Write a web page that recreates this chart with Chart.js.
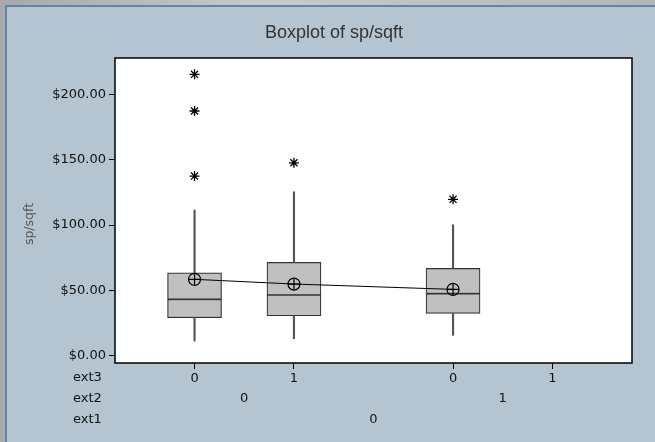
<!DOCTYPE html>
<html>
<head>
<meta charset="utf-8">
<script src="https://cdn.jsdelivr.net/npm/chart.js@4.4.0/dist/chart.umd.min.js"></script>
<style>
  html, body { margin: 0; padding: 0; }
  body { width: 655px; height: 442px; background: linear-gradient(90deg, #a8a8a8, #c9c9c9 40%, #b5b5b5); position: relative; overflow: hidden; }
  #panel { position: absolute; left: 5px; top: 5px; width: 650px; height: 437px; box-sizing: border-box;
           border-left: 2px solid #5b87b3; border-top: 2px solid #5b87b3; background: #b4c4d0; }
  #wrap { position: absolute; left: 0; top: 0; width: 655px; height: 442px; }
</style>
</head>
<body>
<div id="panel"></div>
<div id="wrap"><canvas id="boxplot" width="655" height="442"></canvas></div>
<script>
// categories (ext3 / ext2 / ext1 combinations) and their positions on the x axis
var xPos = [1, 2, 3.6, 4.6];
var ext3Labels = ['0', '1', '0', '1'];
var ext2Labels = ['0', '1'];
var ext2Spans = [[0, 1], [2, 3]];   // index range of categories under each ext2 label
var ext1Labels = ['0'];
var ext1Spans = [[0, 3]];

// box plot values (last category has no data)
var boxX     = [1, 2, 3.6];
var q1       = [29.0, 30.5, 32.3];
var q3       = [63.4, 71.4, 66.8];
var medians  = [43.1, 46.4, 47.4];
var whiskLow = [11.1, 12.9, 15.5];
var whiskHi  = [111.5, 125.5, 100.2];
var means    = [58.4, 54.8, 50.7];

var outlierX = [1, 1, 1, 2, 3.6];
var outlierY = [215.5, 187.4, 137.5, 147.7, 119.7];

var yTicks = [0, 50, 100, 150, 200];

function pts(xs, ys) {
    return xs.map(function(x, i) { return {x: x, y: ys[i]}; });
}
function ranges(xs, lo, hi) {
    return xs.map(function(x, i) { return {x: x, y: [lo[i], hi[i]]}; });
}

var tickFont = {family: 'DejaVu Sans', size: 13};

var plotFrame = {
    id: 'plotFrame',
    beforeDatasetsDraw: function(chart) {
        var a = chart.chartArea, ctx = chart.ctx;
        ctx.save();
        ctx.fillStyle = '#ffffff';
        ctx.fillRect(a.left, a.top, a.right - a.left, a.bottom - a.top);
        ctx.restore();
    },
    afterDraw: function(chart) {
        var a = chart.chartArea, ctx = chart.ctx;
        var xs = chart.scales.x;
        ctx.save();
        ctx.strokeStyle = '#000';
        ctx.lineWidth = 1.5;
        ctx.strokeRect(a.left, a.top, a.right - a.left, a.bottom - a.top);

        // title
        ctx.fillStyle = '#333';
        ctx.font = '18px "Liberation Sans"';
        ctx.textAlign = 'center';
        ctx.textBaseline = 'alphabetic';
        ctx.fillText('Boxplot of sp/sqft', 334, 38);

        // row labels and grouped category labels
        ctx.fillStyle = '#111';
        ctx.font = '13px "DejaVu Sans"';
        ctx.textBaseline = 'middle';
        ctx.textAlign = 'left';
        ctx.fillText('ext3', 73, 378);
        ctx.fillText('ext2', 73, 399);
        ctx.fillText('ext1', 73, 420);
        ctx.textAlign = 'center';
        ext2Labels.forEach(function(l, i) {
            var s = ext2Spans[i];
            ctx.fillText(l, xs.getPixelForValue((xPos[s[0]] + xPos[s[1]]) / 2), 399);
        });
        ext1Labels.forEach(function(l, i) {
            var s = ext1Spans[i];
            ctx.fillText(l, xs.getPixelForValue((xPos[s[0]] + xPos[s[1]]) / 2), 420);
        });

        // y axis title
        ctx.fillStyle = '#555';
        ctx.font = '12.5px "DejaVu Sans"';
        ctx.translate(30, 224);
        ctx.rotate(-Math.PI / 2);
        ctx.fillText('sp/sqft', 0, 0);
        ctx.restore();
    }
};

var ctx = document.getElementById('boxplot').getContext('2d');
new Chart(ctx, {
    type: 'bar',
    data: {
        datasets: [
            {
                label: 'box lower half',
                data: ranges(boxX, q1, medians),
                backgroundColor: '#c0c0c0',
                borderColor: '#333',
                borderWidth: 1.2,
                borderSkipped: false,
                barThickness: 54,
                grouped: false,
                order: 6
            },
            {
                label: 'box upper half',
                data: ranges(boxX, medians, q3),
                backgroundColor: '#c0c0c0',
                borderColor: '#333',
                borderWidth: 1.2,
                borderSkipped: false,
                barThickness: 54,
                grouped: false,
                order: 6
            },
            {
                label: 'upper whisker',
                data: ranges(boxX, q3, whiskHi),
                backgroundColor: '#555',
                barThickness: 1.5,
                grouped: false,
                order: 5
            },
            {
                label: 'lower whisker',
                data: ranges(boxX, whiskLow, q1),
                backgroundColor: '#555',
                barThickness: 1.5,
                grouped: false,
                order: 5
            },
            {
                type: 'line',
                label: 'mean',
                data: pts(boxX, means),
                borderColor: '#000',
                borderWidth: 1,
                pointStyle: 'circle',
                pointRadius: 6,
                pointBorderWidth: 1.2,
                pointBorderColor: '#000',
                pointBackgroundColor: 'rgba(0,0,0,0)',
                fill: false,
                order: 2
            },
            {
                type: 'scatter',
                label: 'mean cross',
                data: pts(boxX, means),
                pointStyle: 'cross',
                pointRadius: 6,
                borderColor: '#000',
                borderWidth: 1.2,
                order: 1
            },
            {
                type: 'scatter',
                label: 'outliers',
                data: pts(outlierX, outlierY),
                pointStyle: 'star',
                pointRadius: 5,
                borderColor: '#000',
                borderWidth: 1.3,
                order: 1
            }
        ]
    },
    options: {
        responsive: false,
        animation: false,
        events: [],
        layout: {padding: {left: 0, top: 58, right: 23, bottom: 0}},
        plugins: {
            legend: {display: false},
            tooltip: {enabled: false},
            title: {display: false}
        },
        scales: {
            x: {
                type: 'linear',
                min: 0.2,
                max: 5.4,
                offset: false,
                afterBuildTicks: function(scale) {
                    scale.ticks = xPos.map(function(v) { return {value: v}; });
                },
                afterFit: function(scale) { scale.height = 79; },
                ticks: {
                    color: '#111',
                    font: tickFont,
                    padding: 2,
                    maxRotation: 0,
                    autoSkip: false,
                    callback: function(value, index) { return ext3Labels[index]; }
                },
                grid: {drawOnChartArea: false, offset: false, tickLength: 6, tickColor: '#000', lineWidth: 1},
                border: {display: false}
            },
            y: {
                min: -5.7,
                max: 228,
                afterBuildTicks: function(scale) {
                    scale.ticks = yTicks.map(function(v) { return {value: v}; });
                },
                afterFit: function(scale) { scale.width = 115; },
                ticks: {
                    color: '#111',
                    font: tickFont,
                    padding: 3,
                    autoSkip: false,
                    callback: function(value) { return '$' + value.toFixed(2); }
                },
                grid: {drawOnChartArea: false, tickLength: 6, tickColor: '#000', lineWidth: 1},
                border: {display: false}
            }
        }
    },
    plugins: [plotFrame]
});
</script>
</body>
</html>
